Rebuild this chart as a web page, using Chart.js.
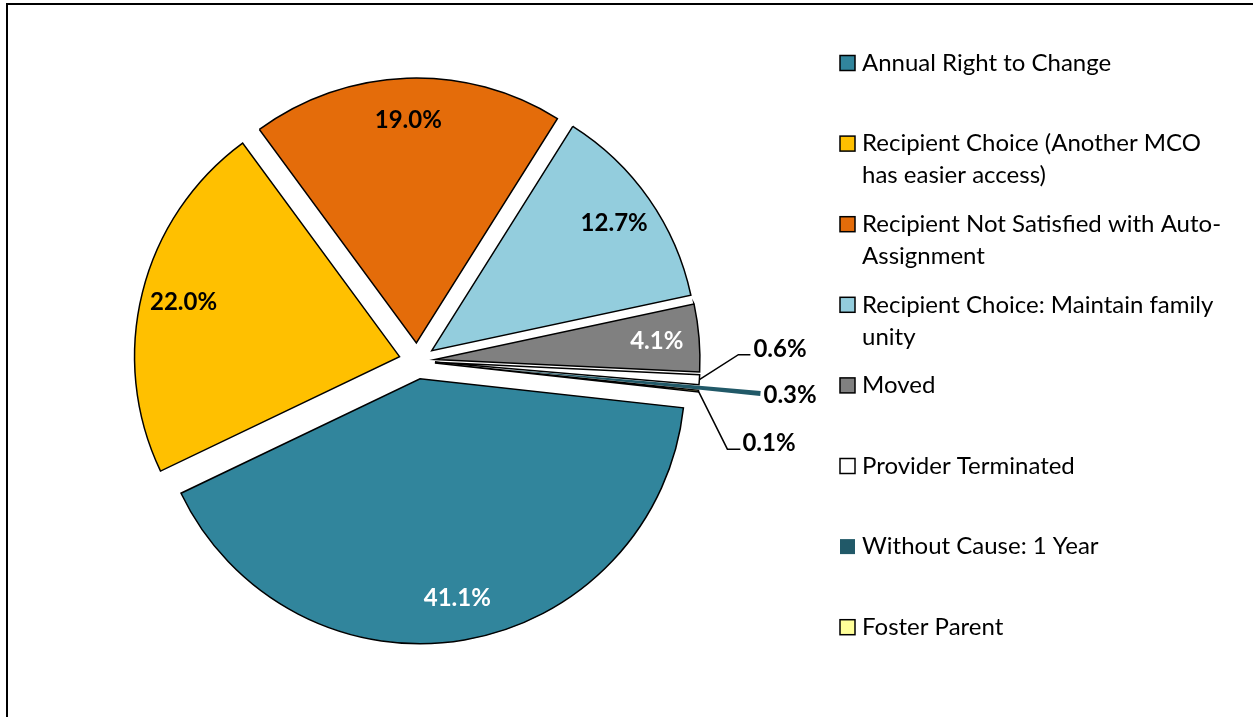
<!DOCTYPE html>
<html lang="en">
<head>
  <meta charset="UTF-8">
  <title>Reasons for MCO Change</title>
  <script src="https://cdn.jsdelivr.net/npm/chart.js"></script>
  <style>
    body {
      margin: 0;
      background: #fff;
    }
    .wrap {
      position: relative;
      width: 1253px;
      height: 717px;
    }
    .frame {
      position: absolute;
      left: 6px;
      top: 3px;
      right: 0;
      bottom: 0;
      border-top: 2px solid #000;
      border-left: 2px solid #000;
    }
    canvas {
      position: absolute;
      left: 0;
      top: 0;
    }
  </style>
</head>
<body>
<div class="wrap">
  <div class="frame"></div>
  <canvas id="pieChart" width="1253" height="717"></canvas>
</div>

<script>
  const labels = [
    'Annual Right to Change',
    ['Recipient Choice (Another MCO', 'has easier access)'],
    ['Recipient Not Satisfied with Auto-', 'Assignment'],
    ['Recipient Choice: Maintain family', 'unity'],
    'Moved',
    'Provider Terminated',
    'Without Cause: 1 Year',
    'Foster Parent'
  ];
  const shares = [41.1, 22.0, 19.0, 12.7, 4.1, 0.6, 0.3, 0.1];
  const colors = ['#31859C', '#FFC000', '#E46C0A', '#93CDDD', '#808080', '#FFFFFF', '#215968', '#FFFF99'];
  const labelColors = ['#fff', '#000', '#000', '#000', '#fff', '#000', '#000', '#000'];

  // how far each slice is pulled out of the pie (px)
  const explode = [18, 18, 18, 18, 18, 18, 80, 18];
  // small slices get their label outside: elbow offset from the arc edge, then a short run
  const callouts = {
    5: { dx: 39, dy: -25, run: 12, tx: 3, ty: -5 },
    6: { dx: 0, dy: 0, run: 0, tx: 3, ty: 2, noLine: true },
    7: { dx: 29, dy: 58, run: 13, tx: 2, ty: -6 }
  };

  const FONT = 'Lato, Carlito, Calibri, sans-serif';

  const explodePlugin = {
    id: 'explode',
    afterDatasetUpdate(chart, args) {
      args.meta.data.forEach((arc, i) => {
        const mid = (arc.startAngle + arc.endAngle) / 2;
        arc.x += Math.cos(mid) * explode[i];
        arc.y += Math.sin(mid) * explode[i];
      });
    }
  };

  const sliceLabels = {
    id: 'sliceLabels',
    afterDatasetsDraw(chart) {
      const ctx = chart.ctx;
      const meta = chart.getDatasetMeta(0);
      ctx.save();
      ctx.font = 'bold 24px ' + FONT;
      ctx.textBaseline = 'middle';
      meta.data.forEach((arc, i) => {
        const text = shares[i].toFixed(1) + '%';
        const mid = (arc.startAngle + arc.endAngle) / 2;
        const r = arc.outerRadius;
        const c = callouts[i];
        if (!c) {
          ctx.fillStyle = labelColors[i];
          ctx.textAlign = 'center';
          ctx.fillText(text, arc.x + Math.cos(mid) * r * 0.84, arc.y + Math.sin(mid) * r * 0.84);
          return;
        }
        const ex = arc.x + Math.cos(mid) * r;
        const ey = arc.y + Math.sin(mid) * r;
        const bx = ex + c.dx;
        const by = ey + c.dy;
        if (!c.noLine) {
          ctx.strokeStyle = '#000';
          ctx.lineWidth = 1.5;
          ctx.beginPath();
          ctx.moveTo(ex, ey);
          ctx.lineTo(bx, by);
          ctx.lineTo(bx + c.run, by);
          ctx.stroke();
        }
        ctx.fillStyle = '#000';
        ctx.textAlign = 'left';
        ctx.fillText(text, bx + c.run + c.tx, by + c.ty);
      });
      ctx.restore();
    }
  };

  const sideLegend = {
    id: 'sideLegend',
    afterDraw(chart) {
      const ctx = chart.ctx;
      ctx.save();
      ctx.font = '24px ' + FONT;
      ctx.textBaseline = 'middle';
      ctx.textAlign = 'left';
      labels.forEach((lab, i) => {
        const lines = Array.isArray(lab) ? lab : [lab];
        const y = 63 + i * 80.6;
        ctx.fillStyle = colors[i];
        ctx.fillRect(840, y - 7.5, 15, 15);
        if (i !== 6) {
          ctx.strokeStyle = '#000';
          ctx.lineWidth = 1.5;
          ctx.strokeRect(840, y - 7.5, 15, 15);
        }
        ctx.fillStyle = '#000';
        lines.forEach((ln, k) => ctx.fillText(ln, 862, y + k * 32));
      });
      ctx.restore();
    }
  };

  const ctx = document.getElementById('pieChart').getContext('2d');
  const pieChart = new Chart(ctx, {
    type: 'pie',
    data: {
      labels: labels,
      datasets: [{
        data: shares,
        backgroundColor: colors,
        borderColor: colors.map((c, i) => i === 6 ? c : '#000'),
        borderWidth: colors.map((c, i) => i === 6 ? 0 : 1.5),
        borderJoinStyle: 'miter',
        radius: 265,
        rotation: 96.3,
        clip: false
      }]
    },
    options: {
      responsive: false,
      animation: false,
      layout: {
        padding: { left: 0, right: 419, top: 5, bottom: 0 }
      },
      plugins: {
        legend: { display: false },
        tooltip: { enabled: false }
      }
    },
    plugins: [explodePlugin, sliceLabels, sideLegend]
  });
</script>
</body>
</html>
